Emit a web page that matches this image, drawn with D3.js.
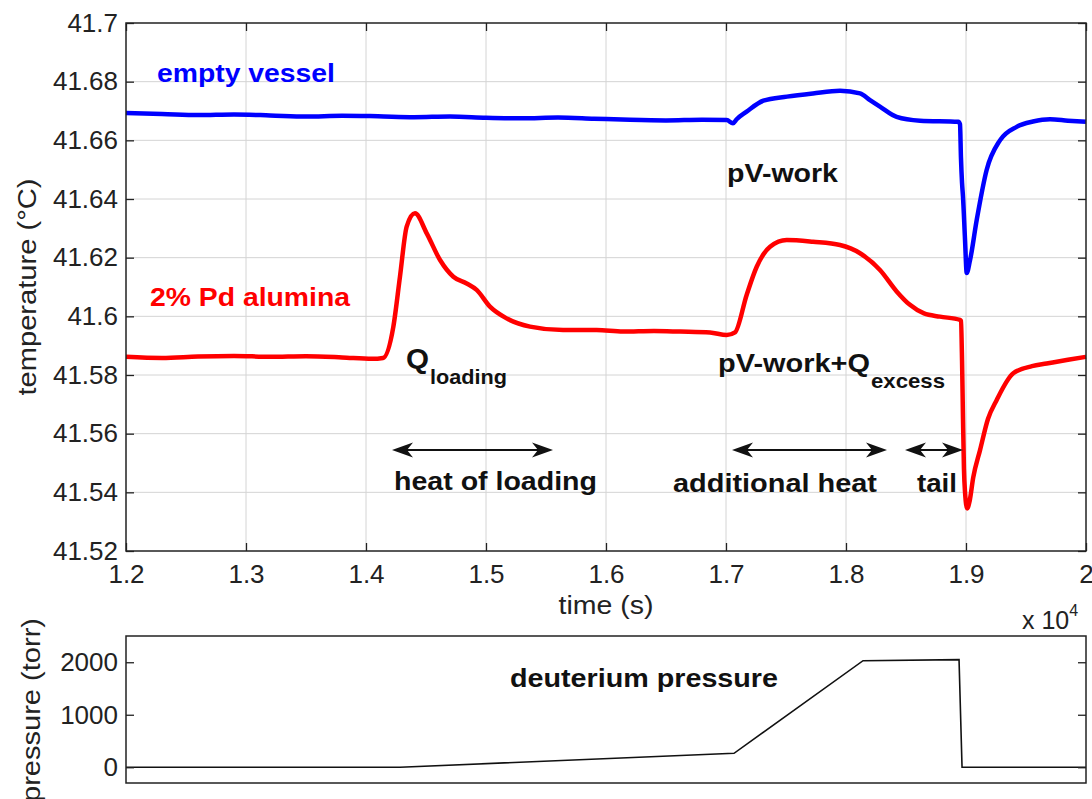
<!DOCTYPE html>
<html>
<head>
<meta charset="utf-8">
<script src="https://cdn.jsdelivr.net/npm/d3@7"></script>
<style>
  body { margin: 0; background: #fff; }
  text { font-family: "Liberation Sans", Arial, sans-serif; }
</style>
</head>
<body>
<div id="chart"></div>
<script>
// time in seconds, temperatures in degC, pressure in torr
var redTime = [12000, 12300, 12600, 12900, 13200, 13500, 13800, 14050, 14142, 14228, 14283, 14339, 14408, 14506, 14617, 14728, 14839, 14922, 15033, 15172, 15367, 15642, 15922, 16142, 16400, 16617, 16867, 17006, 17075, 17172, 17256, 17367, 17506, 17725, 17950, 18117, 18283, 18422, 18530, 18650, 18783, 18950, 18958, 18967, 18975, 18983, 18992, 19010, 19030, 19060, 19117, 19183, 19256, 19394, 19550, 19672, 19850, 20000];
var redTemp = [41.5862, 41.5858, 41.5863, 41.5865, 41.5862, 41.5864, 41.5860, 41.5855, 41.5858, 41.5965, 41.6135, 41.6306, 41.6351, 41.6283, 41.6192, 41.6135, 41.6112, 41.6090, 41.6033, 41.5993, 41.5965, 41.5953, 41.5953, 41.5948, 41.5950, 41.5948, 41.5945, 41.5936, 41.5945, 41.6073, 41.6169, 41.6237, 41.6260, 41.6254, 41.6243, 41.6215, 41.6158, 41.6085, 41.6040, 41.6010, 41.5999, 41.5988, 41.5985, 41.5850, 41.5650, 41.5480, 41.5400, 41.5345, 41.5370, 41.5450, 41.5544, 41.5650, 41.5715, 41.5806, 41.5830, 41.5839, 41.5852, 41.5862];

var blueTime = [12000, 12300, 12600, 12900, 13200, 13500, 13800, 14100, 14400, 14700, 15000, 15300, 15600, 15900, 16200, 16500, 16800, 17006, 17058, 17089, 17172, 17311, 17508, 17725, 17950, 18117, 18200, 18283, 18422, 18617, 18936, 18950, 18958, 18967, 18975, 18992, 19006, 19033, 19089, 19172, 19283, 19422, 19558, 19700, 19850, 20000];
var blueTemp = [41.6693, 41.6690, 41.6686, 41.6688, 41.6685, 41.6681, 41.6684, 41.6682, 41.6679, 41.6681, 41.6677, 41.6675, 41.6678, 41.6674, 41.6670, 41.6668, 41.6670, 41.6669, 41.6658, 41.6672, 41.6698, 41.6735, 41.6749, 41.6760, 41.6769, 41.6760, 41.6737, 41.6715, 41.6680, 41.6667, 41.6663, 41.6655, 41.6540, 41.6455, 41.6407, 41.6260, 41.6148, 41.6190, 41.6328, 41.6499, 41.6600, 41.6646, 41.6664, 41.6672, 41.6667, 41.6663];

var pressTime = [12000, 14283, 17067, 18142, 18942, 18967, 20000];
var pressVal  = [0, 0, 266, 2030, 2050, 0, 0];

var xTicks = [12000, 13000, 14000, 15000, 16000, 17000, 18000, 19000, 20000];
var yTicks = [41.52, 41.54, 41.56, 41.58, 41.6, 41.62, 41.64, 41.66, 41.68, 41.7];
var pTicks = [0, 1000, 2000];

var width = 1092, height = 799;
var svg = d3.select("#chart").append("svg")
    .attr("width", width)
    .attr("height", height);
svg.append("rect").attr("width", width).attr("height", height).attr("fill", "#fff");

// stretch a text to a measured width
function fit(sel, w) {
    sel.attr("textLength", w).attr("lengthAdjust", "spacingAndGlyphs");
    return sel;
}

var x = d3.scaleLinear().domain([12000, 20000]).range([126, 1086]);
var y = d3.scaleLinear().domain([41.52, 41.7]).range([551, 23]);
var yp = d3.scaleLinear().domain([-300, 2500]).range([783, 636]);

// grid
var grid = svg.append("g").attr("stroke", "#d4d4d4").attr("stroke-width", 1);
grid.selectAll(".vg").data(xTicks.slice(1, -1)).join("line")
    .attr("x1", d => x(d)).attr("x2", d => x(d))
    .attr("y1", y(41.7)).attr("y2", y(41.52));
grid.selectAll(".hg").data(yTicks.slice(1, -1)).join("line")
    .attr("x1", x(12000)).attr("x2", x(20000))
    .attr("y1", d => y(d)).attr("y2", d => y(d));

// data traces
var line = d3.line().x(d => x(d[0])).y(d => y(d[1])).curve(d3.curveMonotoneX);
svg.append("path")
    .attr("d", line(d3.zip(blueTime, blueTemp)))
    .attr("fill", "none").attr("stroke", "#0000ff").attr("stroke-width", 4.5)
    .attr("stroke-linejoin", "round");
svg.append("path")
    .attr("d", line(d3.zip(redTime, redTemp)))
    .attr("fill", "none").attr("stroke", "#ff0000").attr("stroke-width", 4.5)
    .attr("stroke-linejoin", "round");

// axes, ticks pointing inward on all sides
var tickLen = 8;
svg.append("g").attr("transform", "translate(0,551)")
    .call(d3.axisBottom(x).tickValues(xTicks).tickSizeInner(-tickLen).tickSizeOuter(0)
        .tickFormat(d => String(+(d / 1e4).toFixed(1))).tickPadding(14))
    .call(g => g.select(".domain").remove());
svg.append("g").attr("transform", "translate(0,23)")
    .call(d3.axisTop(x).tickValues(xTicks).tickSizeInner(-tickLen).tickSizeOuter(0).tickFormat(""))
    .call(g => g.select(".domain").remove());
svg.append("g").attr("transform", "translate(126,0)")
    .call(d3.axisLeft(y).tickValues(yTicks).tickSizeInner(-tickLen).tickSizeOuter(0)
        .tickFormat(d => String(+d.toFixed(2))).tickPadding(8))
    .call(g => g.select(".domain").remove());
svg.append("g").attr("transform", "translate(1086,0)")
    .call(d3.axisRight(y).tickValues(yTicks).tickSizeInner(-tickLen).tickSizeOuter(0).tickFormat(""))
    .call(g => g.select(".domain").remove());

svg.append("rect")
    .attr("x", 126).attr("y", 23).attr("width", 960).attr("height", 528)
    .attr("fill", "none").attr("stroke", "#222").attr("stroke-width", 1.5);

// axis labels
svg.append("text").attr("x", 606).attr("y", 614).attr("text-anchor", "middle")
    .attr("font-size", 25).attr("fill", "#222").text("time (s)").call(fit, 95);
svg.append("text")
    .attr("transform", "translate(36,287) rotate(-90)")
    .attr("text-anchor", "middle").attr("font-size", 26).attr("fill", "#222")
    .text("temperature (°C)").call(fit, 217);
var xe = svg.append("text").attr("x", 1022).attr("y", 629).attr("font-size", 25).attr("fill", "#222");
xe.append("tspan").text("x 10");
xe.append("tspan").attr("font-size", 16).attr("dy", -13).text("4");

// series labels and annotations
svg.append("text").attr("x", 157).attr("y", 82).attr("font-size", 25).attr("font-weight", "bold")
    .attr("fill", "#0000ff").text("empty vessel").call(fit, 178);
svg.append("text").attr("x", 150).attr("y", 306).attr("font-size", 25).attr("font-weight", "bold")
    .attr("fill", "#ff0000").text("2% Pd alumina").call(fit, 200);
svg.append("text").attr("x", 727).attr("y", 182).attr("font-size", 25).attr("font-weight", "bold")
    .attr("fill", "#111").text("pV-work").call(fit, 111);

var q1 = svg.append("g").attr("font-weight", "bold").attr("fill", "#111");
q1.append("text").attr("x", 406).attr("y", 368).attr("font-size", 27).text("Q").call(fit, 23);
q1.append("text").attr("x", 430).attr("y", 384).attr("font-size", 21).text("loading").call(fit, 77);

var q2 = svg.append("g").attr("font-weight", "bold").attr("fill", "#111");
q2.append("text").attr("x", 718).attr("y", 372).attr("font-size", 25).text("pV-work+Q").call(fit, 152);
q2.append("text").attr("x", 871).attr("y", 388).attr("font-size", 21).text("excess").call(fit, 74);

var notes = svg.append("g").attr("font-weight", "bold").attr("fill", "#111").attr("font-size", 25);
notes.append("text").attr("x", 394).attr("y", 490).text("heat of loading").call(fit, 203);
notes.append("text").attr("x", 673).attr("y", 492).text("additional heat").call(fit, 204);
notes.append("text").attr("x", 917).attr("y", 492).text("tail").call(fit, 40);

// double headed arrows
function arrowHead(g, xTip, yy, dir) {
    var L = 21, W = 7.5, back = 6;
    var p = d3.path();
    p.moveTo(xTip, yy);
    p.lineTo(xTip + dir * L, yy - W);
    p.lineTo(xTip + dir * (L - back), yy);
    p.lineTo(xTip + dir * L, yy + W);
    p.closePath();
    g.append("path").attr("d", p.toString()).attr("fill", "#111");
}
var arrows = [[392, 553], [732, 887], [905, 963]];
arrows.forEach(function(a) {
    var g = svg.append("g");
    g.append("line").attr("x1", a[0] + 8).attr("x2", a[1] - 8).attr("y1", 450).attr("y2", 450)
        .attr("stroke", "#111").attr("stroke-width", 2);
    arrowHead(g, a[0], 450, 1);
    arrowHead(g, a[1], 450, -1);
});

// pressure panel
var pline = d3.line().x(d => x(d[0])).y(d => yp(d[1]));
svg.append("path")
    .attr("d", pline(d3.zip(pressTime, pressVal)))
    .attr("fill", "none").attr("stroke", "#111").attr("stroke-width", 1.6);

svg.append("g").attr("transform", "translate(126,0)")
    .call(d3.axisLeft(yp).tickValues(pTicks).tickSizeInner(-tickLen).tickSizeOuter(0)
        .tickFormat(d => String(d)).tickPadding(8))
    .call(g => g.select(".domain").remove());
svg.append("g").attr("transform", "translate(1086,0)")
    .call(d3.axisRight(yp).tickValues(pTicks).tickSizeInner(-tickLen).tickSizeOuter(0).tickFormat(""))
    .call(g => g.select(".domain").remove());
svg.append("rect")
    .attr("x", 126).attr("y", 636).attr("width", 960).attr("height", 147)
    .attr("fill", "none").attr("stroke", "#222").attr("stroke-width", 1.5);

svg.selectAll(".tick line").attr("stroke", "#222").attr("stroke-width", 1.3);
svg.selectAll(".tick text").attr("font-size", 26).attr("fill", "#222")
    .attr("font-family", "Liberation Sans, Arial, sans-serif");

svg.append("text")
    .attr("transform", "translate(40,710) rotate(-90)")
    .attr("text-anchor", "middle").attr("font-size", 26).attr("fill", "#222")
    .text("pressure (torr)").call(fit, 184);
svg.append("text").attr("x", 510).attr("y", 687).attr("font-size", 25).attr("font-weight", "bold")
    .attr("fill", "#111").text("deuterium pressure").call(fit, 268);
</script>
</body>
</html>
